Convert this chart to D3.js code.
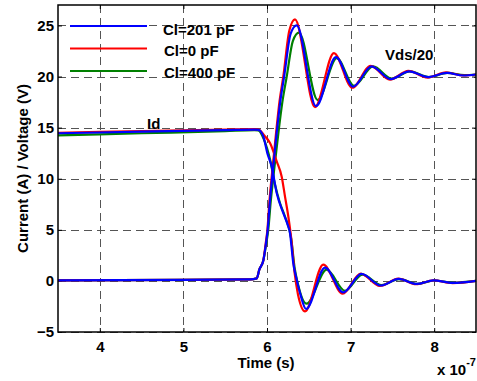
<!DOCTYPE html>
<html>
<head>
<meta charset="utf-8">
<script src="https://cdn.jsdelivr.net/npm/d3@7"></script>
<style>
  html, body { margin: 0; padding: 0; background: #fff; }
  svg { display: block; }
  text { font-family: "Liberation Sans", Arial, Helvetica, sans-serif; font-weight: bold; fill: #000; }
</style>
</head>
<body>
<svg id="chart" width="477" height="381"></svg>
<script>
// Time axis in units of 1e-7 s
const xTicks = [4, 5, 6, 7, 8];
const yTicks = [-5, 0, 5, 10, 15, 20, 25];

// Vds/20 for each load capacitance
const vdsT201 = [3.5, 5.0, 5.80, 5.877, 5.908, 5.956, 5.988, 6.008, 6.036, 6.075, 6.116, 6.156, 6.205, 6.283, 6.355, 6.586, 6.825, 7.03, 7.25, 7.48, 7.70, 7.93, 8.15, 8.35, 8.5];
const vds201  = [0.05, 0.1, 0.15, 0.25, 1.1, 2.0, 3.7, 5.0, 7.9, 11.2, 14.5, 17.4, 20.0, 24.2, 25.0, 17.1, 21.9, 19.0, 21.0, 19.75, 20.5, 19.95, 20.35, 20.1, 20.2];
const vdsT0   = [3.5, 5.0, 5.80, 5.877, 5.908, 5.956, 5.985, 6.005, 6.03, 6.07, 6.11, 6.15, 6.195, 6.267, 6.335, 6.574, 6.80, 7.02, 7.24, 7.47, 7.69, 7.92, 8.14, 8.35, 8.5];
const vds0    = [0.05, 0.1, 0.15, 0.25, 1.1, 2.0, 3.7, 5.0, 7.9, 11.3, 14.6, 17.6, 20.0, 24.5, 25.6, 17.0, 22.3, 18.9, 21.05, 19.7, 20.55, 19.9, 20.4, 20.1, 20.2];
const vdsT400 = [3.5, 5.0, 5.80, 5.877, 5.908, 5.956, 5.99, 6.015, 6.045, 6.09, 6.135, 6.18, 6.236, 6.31, 6.383, 6.606, 6.835, 7.04, 7.27, 7.49, 7.71, 7.94, 8.16, 8.36, 8.5];
const vds400  = [0.05, 0.1, 0.15, 0.25, 1.1, 2.0, 3.6, 5.0, 7.8, 11.2, 14.4, 17.3, 20.0, 23.5, 24.3, 17.7, 21.8, 19.1, 21.0, 19.8, 20.5, 19.95, 20.35, 20.15, 20.2];

// Drain current Id for each load capacitance
const idT201 = [3.5, 4.5, 5.5, 5.85, 5.896, 5.956, 6.004, 6.056, 6.116, 6.195, 6.243, 6.275, 6.314, 6.355, 6.395, 6.467, 6.694, 6.912, 7.13, 7.36, 7.576, 7.79, 7.99, 8.225, 8.5];
const id201  = [14.45, 14.6, 14.75, 14.8, 14.78, 14.14, 12.5, 11.2, 8.6, 6.64, 5.6, 4.69, 1.75, 0.12, -1.18, -2.75, 1.3, -1.13, 0.68, -0.45, 0.2, -0.3, 0.05, -0.2, 0.0];
const idT0   = [3.5, 4.5, 5.5, 5.85, 5.90, 5.97, 6.036, 6.116, 6.176, 6.215, 6.255, 6.292, 6.33, 6.37, 6.455, 6.673, 6.905, 7.12, 7.35, 7.57, 7.785, 7.99, 8.22, 8.5];
const id0    = [14.5, 14.65, 14.8, 14.85, 14.8, 14.2, 13.5, 11.7, 10.2, 8.27, 6.3, 4.0, 0.8, -1.3, -2.98, 1.59, -1.25, 0.72, -0.5, 0.22, -0.32, 0.06, -0.22, 0.0];
const idT400 = [3.5, 4.5, 5.5, 5.85, 5.896, 5.96, 6.036, 6.096, 6.156, 6.215, 6.29, 6.33, 6.37, 6.474, 6.714, 6.933, 7.14, 7.37, 7.58, 7.80, 8.0, 8.23, 8.5];
const id400  = [14.25, 14.45, 14.65, 14.75, 14.72, 13.9, 11.9, 9.4, 7.6, 6.3, 4.1, 1.3, -0.3, -2.23, 1.1, -0.97, 0.62, -0.4, 0.18, -0.28, 0.04, -0.18, 0.0];

const legendLabels = ["Cl=201 pF", "Cl=0 pF", "Cl=400 pF"];
const colors = { c201: "#0000ff", c0: "#ff0000", c400: "#008000" };

const svg = d3.select("#chart");
const plotL = 58, plotR = 476, plotT = 5, plotB = 332;

const x = d3.scaleLinear().domain([3.5, 8.5]).range([plotL, plotR]);
const y = d3.scaleLinear().domain([-5, 27]).range([plotB, plotT]);

// grid
const grid = svg.append("g").attr("stroke", "#555").attr("stroke-width", 1).attr("stroke-dasharray", "8,5");
grid.selectAll("line.gx").data(xTicks).join("line")
  .attr("x1", d => Math.round(x(d)) + 0.5).attr("x2", d => Math.round(x(d)) + 0.5)
  .attr("y1", plotT).attr("y2", plotB);
grid.selectAll("line.gy").data(yTicks).join("line")
  .attr("y1", d => Math.round(y(d)) + 0.5).attr("y2", d => Math.round(y(d)) + 0.5)
  .attr("x1", plotL).attr("x2", plotR);

// axes (ticks point inward)
const xAxisB = d3.axisBottom(x).tickValues(xTicks).tickSize(-4).tickPadding(9).tickFormat(d3.format("d"));
const xAxisT = d3.axisTop(x).tickValues(xTicks).tickSize(-4).tickFormat("");
const yAxisL = d3.axisLeft(y).tickValues(yTicks).tickSize(-4).tickPadding(4).tickFormat(d3.format("d"));
const yAxisR = d3.axisRight(y).tickValues(yTicks).tickSize(-4).tickFormat("");

function styleAxis(g) {
  g.select(".domain").remove();
  g.selectAll(".tick line").attr("stroke", "#000");
  g.selectAll(".tick text").style("font-size", "15px").style("font-family", "'Liberation Sans', Arial, sans-serif").style("font-weight", "bold").attr("fill", "#000");
}
svg.append("g").attr("transform", `translate(0,${plotB})`).call(xAxisB).call(styleAxis);
svg.append("g").attr("transform", `translate(0,${plotT})`).call(xAxisT).call(styleAxis);
svg.append("g").attr("transform", `translate(${plotL},0)`).call(yAxisL).call(styleAxis);
svg.append("g").attr("transform", `translate(${plotR},0)`).call(yAxisR).call(styleAxis);

// data lines
const line = d3.line().x(d => x(d[0])).y(d => y(d[1])).curve(d3.curveMonotoneX);
const zip = (ts, vs) => ts.map((t, i) => [t, vs[i]]);
const series = [
  { t: idT400, v: id400, c: colors.c400 },
  { t: vdsT400, v: vds400, c: colors.c400 },
  { t: idT0, v: id0, c: colors.c0 },
  { t: vdsT0, v: vds0, c: colors.c0 },
  { t: idT201, v: id201, c: colors.c201 },
  { t: vdsT201, v: vds201, c: colors.c201 }
];
svg.append("g").selectAll("path").data(series).join("path")
  .attr("d", s => line(zip(s.t, s.v)))
  .attr("fill", "none")
  .attr("stroke", s => s.c)
  .attr("stroke-width", 2.2)
  .attr("stroke-linejoin", "round");

// frame
svg.append("rect").attr("x", plotL).attr("y", plotT).attr("width", plotR - plotL).attr("height", plotB - plotT)
  .attr("fill", "none").attr("stroke", "#000").attr("stroke-width", 1.5);

// legend
const legColors = [colors.c201, colors.c0, colors.c400];
const legLineY = [26, 48.5, 71];
const legTextY = [34.5, 55.5, 77.5];
const leg = svg.append("g");
legendLabels.forEach((lab, i) => {
  leg.append("line").attr("x1", 70).attr("x2", 147).attr("y1", legLineY[i]).attr("y2", legLineY[i])
    .attr("stroke", legColors[i]).attr("stroke-width", 2.2);
  leg.append("text").attr("x", i === 0 ? 163 : 164).attr("y", legTextY[i]).style("font-size", "15px").text(lab);
});

// annotations
svg.append("text").attr("x", 147).attr("y", 128.5).style("font-size", "15px").text("Id");
svg.append("text").attr("x", 385).attr("y", 60).style("font-size", "15px").text("Vds/20");

// axis labels
svg.append("text").attr("x", 266).attr("y", 368).attr("text-anchor", "middle").style("font-size", "15px").text("Time (s)");
svg.append("text").attr("transform", `translate(28,${(plotT + plotB) / 2}) rotate(-90)`)
  .attr("text-anchor", "middle").style("font-size", "15px").text("Current (A) / Voltage (V)");
const expo = svg.append("text").attr("x", 437).attr("y", 375).style("font-size", "15px");
expo.append("tspan").text("x 10");
expo.append("tspan").attr("dy", -9).style("font-size", "11px").text("-7");
</script>
</body>
</html>
